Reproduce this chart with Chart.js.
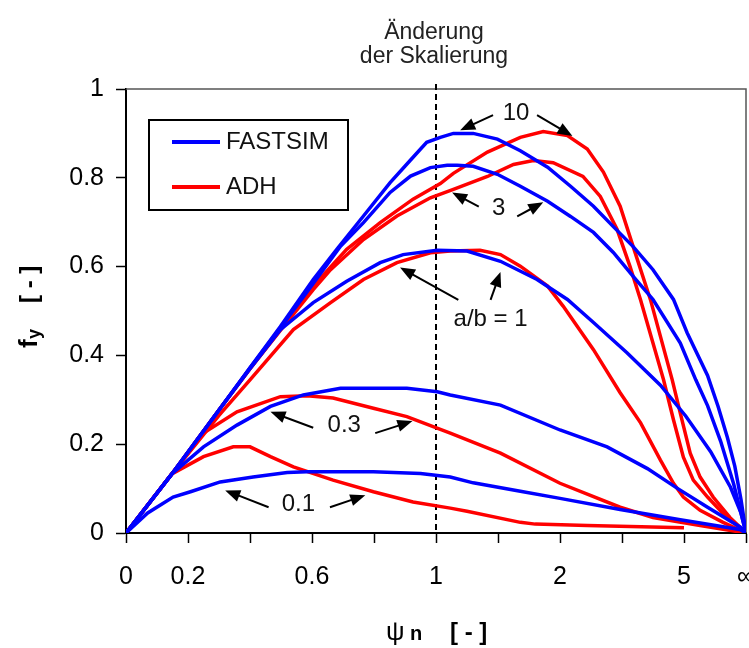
<!DOCTYPE html>
<html>
<head>
<meta charset="utf-8">
<script src="https://cdn.jsdelivr.net/npm/chart.js@4.4.0/dist/chart.umd.min.js"></script>
<style>
  html, body { margin: 0; padding: 0; background: #fff; }
</style>
</head>
<body>
<canvas id="fyChart" width="749" height="648"></canvas>
<script>
// x is in "scale units": 0..5 = psi 0..1 (linear), 5..10 = psi 1..inf (rescaled)
const xTickPos  = [0, 1, 3, 5, 7, 9, 10];
const xTickText = ['0', '0.2', '0.6', '1', '2', '5', '\u221E'];

// FASTSIM curves, [x, fy]
const fastsim10 = [[0,0],[0.74,0.133],[1.5,0.277],[2.0,0.372],[2.49,0.465],[3.02,0.571],[3.40,0.639],[3.83,0.714],[4.26,0.789],[4.59,0.840],[4.85,0.880],[5.07,0.891],[5.28,0.900],[5.60,0.900],[5.99,0.887],[6.36,0.861],[6.80,0.824],[7.17,0.781],[7.54,0.736],[7.86,0.690],[8.18,0.645],[8.50,0.593],[8.83,0.526],[9.05,0.451],[9.38,0.355],[9.55,0.285],[9.70,0.215],[9.82,0.150],[9.92,0.075],[10,0]];
const fastsim3  = [[0,0],[0.74,0.133],[1.5,0.277],[2.0,0.372],[2.49,0.462],[3.02,0.562],[3.46,0.646],[3.83,0.699],[4.26,0.767],[4.59,0.804],[4.91,0.823],[5.18,0.828],[5.34,0.828],[5.60,0.826],[5.99,0.808],[6.36,0.781],[6.80,0.747],[7.17,0.713],[7.54,0.677],[7.86,0.632],[8.18,0.578],[8.50,0.526],[8.94,0.428],[9.19,0.345],[9.38,0.287],[9.59,0.207],[9.80,0.111],[10,0]];
const fastsim1  = [[0,0],[0.74,0.133],[1.5,0.277],[2.0,0.370],[2.49,0.458],[3.02,0.519],[3.56,0.567],[4.10,0.609],[4.47,0.627],[5.02,0.637],[5.50,0.635],[6.04,0.612],[6.63,0.571],[7.12,0.526],[7.54,0.474],[8.08,0.406],[8.62,0.333],[9.03,0.263],[9.43,0.183],[9.75,0.103],[9.92,0.045],[10,0]];
const fastsim03 = [[0,0],[0.74,0.133],[1.25,0.194],[1.79,0.243],[2.33,0.285],[2.86,0.311],[3.46,0.326],[4.53,0.326],[5.02,0.318],[5.23,0.311],[6.04,0.288],[7.00,0.232],[7.76,0.194],[8.41,0.145],[8.90,0.100],[9.38,0.058],[9.91,0.013],[10,0]];
const fastsim01 = [[0,0],[0.35,0.045],[0.76,0.081],[1.04,0.093],[1.52,0.115],[2.05,0.126],[2.60,0.136],[2.92,0.138],[3.99,0.138],[4.75,0.134],[5.23,0.126],[5.60,0.113],[6.36,0.094],[7.00,0.078],[7.97,0.053],[8.94,0.030],[9.90,0.008],[10,0]];

// ADH curves, [x, fy]
const adh10 = [[0,0],[0.74,0.133],[1.5,0.277],[2.0,0.370],[2.5,0.460],[3.02,0.556],[3.56,0.639],[4.10,0.699],[4.63,0.752],[5.07,0.787],[5.28,0.810],[5.83,0.858],[6.36,0.891],[6.73,0.904],[7.12,0.895],[7.44,0.865],[7.70,0.813],[7.97,0.736],[8.18,0.645],[8.46,0.525],[8.81,0.345],[8.94,0.270],[9.10,0.180],[9.26,0.126],[9.47,0.081],[9.74,0.035],[10,0]];
const adh3  = [[0,0],[0.74,0.133],[1.5,0.277],[2.0,0.370],[2.5,0.458],[3.02,0.548],[3.30,0.593],[3.83,0.661],[4.37,0.714],[4.91,0.755],[5.28,0.774],[5.83,0.803],[6.25,0.830],[6.57,0.839],[6.89,0.834],[7.37,0.803],[7.65,0.758],[7.92,0.684],[8.13,0.600],[8.30,0.525],[8.67,0.345],[8.83,0.255],[8.99,0.171],[9.15,0.119],[9.38,0.081],[9.63,0.044],[10,0]];
const adh1  = [[0,0],[0.74,0.133],[1.5,0.265],[2.0,0.345],[2.70,0.458],[3.30,0.519],[3.83,0.571],[4.37,0.609],[4.91,0.631],[5.23,0.635],[5.71,0.637],[6.04,0.627],[6.36,0.601],[6.80,0.556],[7.05,0.511],[7.54,0.413],[7.97,0.316],[8.30,0.248],[8.62,0.164],[8.83,0.112],[8.99,0.081],[9.26,0.051],[9.63,0.024],[10,0]];
const adh03 = [[0,0],[0.74,0.133],[1.25,0.225],[1.79,0.273],[2.49,0.307],[2.92,0.309],[3.34,0.304],[3.99,0.281],[4.53,0.262],[5.23,0.225],[6.04,0.180],[7.00,0.112],[7.97,0.058],[8.50,0.035],[9.26,0.017],[10,0]];
const adh01 = [[0,0],[0.74,0.133],[1.25,0.172],[1.73,0.194],[2.00,0.194],[2.33,0.172],[2.70,0.149],[3.34,0.119],[3.99,0.093],[4.63,0.070],[5.23,0.056],[5.50,0.049],[6.36,0.024],[6.60,0.020],[7.44,0.017],[9.00,0.012]];

const FONT = '"Liberation Sans", Arial, sans-serif';
const BLUE = '#0000ff';
const RED = '#ff0000';

// labels with arrows, in data units: text position, then [from, to] per arrow
const notes = [
    { text: '10',      at: [6.29, 0.946], arrows: [[[5.92, 0.941], [5.39, 0.907]], [[6.63, 0.941], [7.20, 0.894]]] },
    { text: '3',       at: [6.01, 0.731], arrows: [[[5.69, 0.735], [5.26, 0.767]], [[6.31, 0.713], [6.73, 0.745]]] },
    { text: 'a/b = 1', at: [5.88, 0.482], arrows: [[[5.36, 0.525], [4.42, 0.598]], [[5.88, 0.525], [6.04, 0.588]]] },
    { text: '0.3',     at: [3.52, 0.243], arrows: [[[3.02, 0.237], [2.33, 0.273]], [[4.02, 0.225], [4.62, 0.252]]] },
    { text: '0.1',     at: [2.78, 0.065], arrows: [[[2.30, 0.058], [1.60, 0.096]], [[3.29, 0.058], [3.86, 0.085]]] }
];

function toXY(arr) {
    return arr.map(p => ({ x: p[0], y: p[1] }));
}

function line(label, data, color) {
    return {
        label: label,
        data: toXY(data),
        borderColor: color,
        backgroundColor: color,
        borderWidth: 3.5,
        pointRadius: 0,
        tension: 0,
        fill: false
    };
}

function arrow(ctx, x1, y1, x2, y2) {
    var a = Math.atan2(y2 - y1, x2 - x1);
    var len = 15, half = 6;
    ctx.beginPath();
    ctx.moveTo(x1, y1);
    ctx.lineTo(x2 - Math.cos(a) * len * 0.7, y2 - Math.sin(a) * len * 0.7);
    ctx.stroke();
    ctx.beginPath();
    ctx.moveTo(x2, y2);
    ctx.lineTo(x2 - len * Math.cos(a) + half * Math.sin(a), y2 - len * Math.sin(a) - half * Math.cos(a));
    ctx.lineTo(x2 - len * Math.cos(a) - half * Math.sin(a), y2 - len * Math.sin(a) + half * Math.cos(a));
    ctx.closePath();
    ctx.fill();
}

// frame, dashed line, titles, legend box, annotations
const extras = {
    id: 'extras',
    beforeDatasetsDraw(chart) {
        var ctx = chart.ctx, area = chart.chartArea;
        var xs = chart.scales.x;
        ctx.save();
        ctx.strokeStyle = '#555';
        ctx.lineWidth = 1.5;
        ctx.beginPath();
        ctx.moveTo(area.left, area.top);
        ctx.lineTo(area.right, area.top);
        ctx.lineTo(area.right, area.bottom);
        ctx.stroke();

        var xd = xs.getPixelForValue(5);
        ctx.strokeStyle = '#000';
        ctx.lineWidth = 2;
        ctx.setLineDash([6, 4]);
        ctx.beginPath();
        ctx.moveTo(xd, area.top - 5);
        ctx.lineTo(xd, area.bottom);
        ctx.stroke();
        ctx.restore();
    },
    afterDraw(chart) {
        var ctx = chart.ctx, area = chart.chartArea;
        var xs = chart.scales.x, ys = chart.scales.y;
        ctx.save();

        // heading above the dashed line
        var xd = xs.getPixelForValue(5);
        ctx.fillStyle = '#222';
        ctx.font = '23px ' + FONT;
        ctx.textAlign = 'center';
        ctx.textBaseline = 'alphabetic';
        ctx.fillText('\u00C4nderung', xd - 2, 39);
        ctx.fillText('der Skalierung', xd - 2, 63);

        // x axis title
        ctx.fillStyle = '#000';
        ctx.textAlign = 'left';
        ctx.font = '26px ' + FONT;
        ctx.fillText('\u03C8', 386, 640);
        ctx.font = 'bold 20px ' + FONT;
        ctx.fillText('n', 410, 640);
        ctx.font = 'bold 24px ' + FONT;
        ctx.fillText('[ - ]', 450, 640);

        // y axis title
        ctx.save();
        ctx.translate(37, 348);
        ctx.rotate(-Math.PI / 2);
        ctx.font = 'bold 26px ' + FONT;
        ctx.fillText('f', 0, 0);
        ctx.font = 'bold 18px ' + FONT;
        ctx.fillText('y', 9, 3);
        ctx.font = 'bold 24px ' + FONT;
        ctx.fillText('[ - ]', 45, 0);
        ctx.restore();

        // legend
        var lx = area.left + 23, ly = area.top + 31;
        ctx.fillStyle = '#fff';
        ctx.fillRect(lx, ly, 199, 90);
        ctx.strokeStyle = '#000';
        ctx.lineWidth = 2;
        ctx.strokeRect(lx, ly, 199, 90);
        ctx.lineWidth = 4;
        ctx.strokeStyle = BLUE;
        ctx.beginPath();
        ctx.moveTo(lx + 23, ly + 22);
        ctx.lineTo(lx + 71, ly + 22);
        ctx.stroke();
        ctx.strokeStyle = RED;
        ctx.beginPath();
        ctx.moveTo(lx + 23, ly + 67);
        ctx.lineTo(lx + 71, ly + 67);
        ctx.stroke();
        ctx.fillStyle = '#111';
        ctx.font = '24px ' + FONT;
        ctx.textBaseline = 'middle';
        ctx.fillText('FASTSIM', lx + 77, ly + 22);
        ctx.fillText('ADH', lx + 77, ly + 67);

        // annotations
        ctx.fillStyle = '#111';
        ctx.strokeStyle = '#000';
        ctx.lineWidth = 2;
        ctx.textAlign = 'center';
        ctx.textBaseline = 'middle';
        ctx.font = '24px ' + FONT;
        notes.forEach(function (n) {
            ctx.fillText(n.text, xs.getPixelForValue(n.at[0]), ys.getPixelForValue(n.at[1]));
            n.arrows.forEach(function (a) {
                ctx.fillStyle = '#000';
                arrow(ctx,
                    xs.getPixelForValue(a[0][0]), ys.getPixelForValue(a[0][1]),
                    xs.getPixelForValue(a[1][0]), ys.getPixelForValue(a[1][1]));
                ctx.fillStyle = '#111';
            });
        });
        ctx.restore();
    }
};

var ctx = document.getElementById('fyChart').getContext('2d');
var fyChart = new Chart(ctx, {
    type: 'line',
    data: {
        datasets: [
            line('FASTSIM a/b=10', fastsim10, BLUE),
            line('FASTSIM a/b=3', fastsim3, BLUE),
            line('FASTSIM a/b=1', fastsim1, BLUE),
            line('FASTSIM a/b=0.3', fastsim03, BLUE),
            line('FASTSIM a/b=0.1', fastsim01, BLUE),
            line('ADH a/b=10', adh10, RED),
            line('ADH a/b=3', adh3, RED),
            line('ADH a/b=1', adh1, RED),
            line('ADH a/b=0.3', adh03, RED),
            line('ADH a/b=0.1', adh01, RED)
        ]
    },
    options: {
        responsive: false,
        animation: false,
        layout: { padding: { left: 0, right: 3, top: 89, bottom: 0 } },
        plugins: {
            legend: { display: false },
            tooltip: { enabled: false }
        },
        scales: {
            x: {
                type: 'linear',
                min: 0,
                max: 10,
                afterFit: function (s) { s.height = 115; s.paddingLeft = 0; s.paddingRight = 0; },
                ticks: {
                    stepSize: 1,
                    autoSkip: false,
                    maxRotation: 0,
                    padding: 19,
                    color: '#000',
                    font: { family: FONT, size: 25 },
                    callback: function (v) {
                        var i = xTickPos.indexOf(v);
                        return i >= 0 ? xTickText[i] : '';
                    }
                },
                grid: { drawOnChartArea: false, tickLength: 10, tickColor: '#000', tickWidth: 1.5 },
                border: { color: '#000', width: 2 }
            },
            y: {
                min: 0,
                max: 1,
                afterFit: function (s) { s.width = 126; },
                ticks: {
                    stepSize: 0.2,
                    padding: 12,
                    color: '#000',
                    font: { family: FONT, size: 25 },
                    callback: function (v) { return String(Math.round(v * 10) / 10); }
                },
                grid: { drawOnChartArea: false, tickLength: 10, tickColor: '#000', tickWidth: 1.5 },
                border: { color: '#000', width: 2 }
            }
        }
    },
    plugins: [extras]
});
</script>
</body>
</html>
